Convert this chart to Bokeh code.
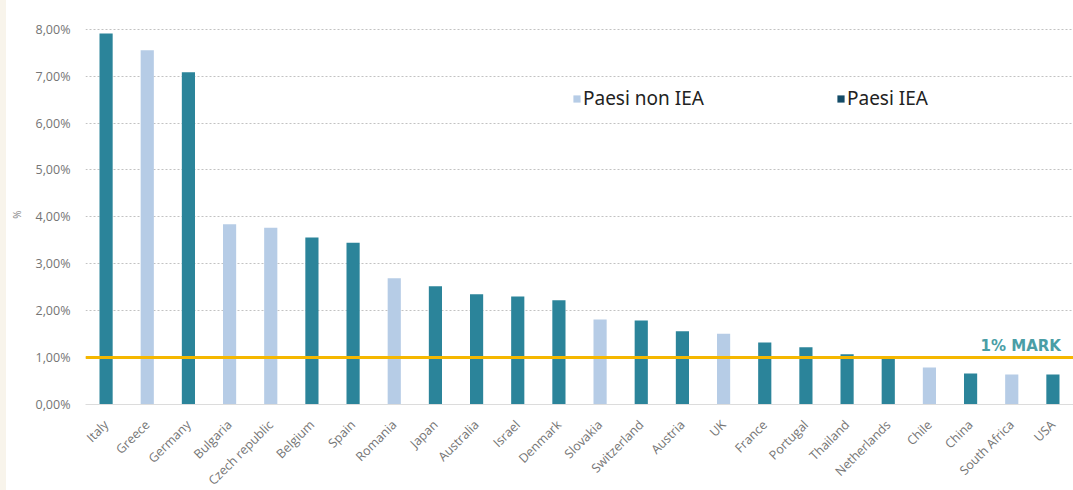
import math
from bokeh.plotting import figure
from bokeh.models import (ColumnDataSource, FixedTicker, Span, Legend, LegendItem,
                          Range1d, FactorRange, Spacer)
from bokeh.core.properties import value
from bokeh.layouts import row
from bokeh.embed import file_html
from bokeh.resources import INLINE

countries = ["Italy", "Greece", "Germany", "Bulgaria", "Czech republic", "Belgium", "Spain",
             "Romania", "Japan", "Australia", "Israel", "Denmark", "Slovakia", "Switzerland",
             "Austria", "UK", "France", "Portugal", "Thailand", "Netherlands", "Chile", "China",
             "South Africa", "USA"]
values = [7.91, 7.55, 7.08, 3.84, 3.77, 3.56, 3.45, 2.69, 2.52, 2.35, 2.30, 2.22, 1.81, 1.79,
          1.56, 1.51, 1.32, 1.22, 1.07, 1.00, 0.79, 0.66, 0.64, 0.64]
iea_member = [True, False, True, False, False, True, True, False, True, True, True, True, False,
              True, True, False, True, True, True, True, False, True, False, True]
y_ticks = [0, 1, 2, 3, 4, 5, 6, 7, 8]
y_tick_labels = ["0,00%", "1,00%", "2,00%", "3,00%", "4,00%", "5,00%", "6,00%", "7,00%", "8,00%"]
mark_level = 1.0
mark_text = "1% MARK"
legend_labels = ["Paesi non IEA", "Paesi IEA"]

TEAL = "#2b849a"
LIGHT = "#b6cce6"
NAVY = "#134b67"

iea_x = [c for c, m in zip(countries, iea_member) if m]
iea_v = [v for v, m in zip(values, iea_member) if m]
non_x = [c for c, m in zip(countries, iea_member) if not m]
non_v = [v for v, m in zip(values, iea_member) if not m]

p = figure(frame_width=988, frame_height=380, x_range=FactorRange(*countries, range_padding=0),
           y_range=Range1d(0, 8.1), output_backend="svg", toolbar_location=None,
           min_border_left=79, min_border_right=0, min_border_top=24, min_border_bottom=86)
p.outline_line_color = None
p.background_fill_color = "white"
p.border_fill_color = "white"

src_iea = ColumnDataSource(dict(x=iea_x, top=iea_v))
src_non = ColumnDataSource(dict(x=non_x, top=non_v))
p.vbar(x="x", top="top", width=0.32, source=src_iea, fill_color=TEAL, line_color=None)
p.vbar(x="x", top="top", width=0.32, source=src_non, fill_color=LIGHT, line_color=None)

# legend swatches (renderers placed outside the visible range)
d_non = p.vbar(x=[countries[0]], top=[-5], bottom=[-6], width=0.3,
               fill_color=LIGHT, line_color=None)
d_iea = p.vbar(x=[countries[0]], top=[-5], bottom=[-6], width=0.3,
               fill_color=NAVY, line_color=None)

for lbl, r, loc in [(legend_labels[0], d_non, (487, 293)), (legend_labels[1], d_iea, (751, 293))]:
    lg = Legend(items=[LegendItem(label=lbl, renderers=[r])], location=loc,
                padding=0, margin=0, border_line_color=None, background_fill_alpha=0,
                glyph_width=9, glyph_height=9, label_standoff=2,
                label_text_font="Noto Sans", label_text_font_size="19px",
                label_text_color="#222222")
    p.add_layout(lg, "center")

p.add_layout(Span(location=mark_level, dimension="width", line_color="#f5b700", line_width=3))
mark_src = ColumnDataSource(dict(x=[countries[-1]], y=[mark_level], t=[mark_text]))
p.text(x="x", y="y", text="t", source=mark_src, x_offset=8, y_offset=-3,
       text_align="right", text_baseline="bottom", text_font=value("DejaVu Sans"),
       text_font_style="bold", text_font_size="15px", text_color="#4a9ea6")

p.yaxis.ticker = FixedTicker(ticks=y_ticks)
p.yaxis.major_label_overrides = {t: l for t, l in zip(y_ticks, y_tick_labels)}
p.yaxis.axis_line_color = None
p.yaxis.major_tick_line_color = None
p.yaxis.minor_tick_line_color = None
p.yaxis.major_label_text_font = "Open Sans"
p.yaxis.major_label_text_font_size = "12.5px"
p.yaxis.major_label_text_color = "#757575"
p.yaxis.major_label_standoff = 9
p.yaxis.axis_label = "%"
p.yaxis.axis_label_text_font = "Open Sans"
p.yaxis.axis_label_text_font_style = "normal"
p.yaxis.axis_label_text_font_size = "10px"
p.yaxis.axis_label_text_color = "#888888"
p.yaxis.axis_label_standoff = 8

p.xaxis.axis_line_color = "#dcdcdc"
p.xaxis.major_tick_line_color = None
p.xaxis.minor_tick_line_color = None
p.xaxis.major_label_orientation = math.pi / 4
p.xaxis.major_label_text_font = "Open Sans"
p.xaxis.major_label_text_font_size = "12.5px"
p.xaxis.major_label_text_color = "#757575"
p.xaxis.major_label_standoff = 12

p.xgrid.grid_line_color = None
p.ygrid.grid_line_color = "#c2c2c2"
p.ygrid.grid_line_dash = "2 2"
p.ygrid.grid_line_width = 1

strip = Spacer(width=6, height=490, styles={"background-color": "#f8f4eb"})
layout = row(strip, p, spacing=0)

open("out.html", "w").write(file_html(layout, INLINE))
